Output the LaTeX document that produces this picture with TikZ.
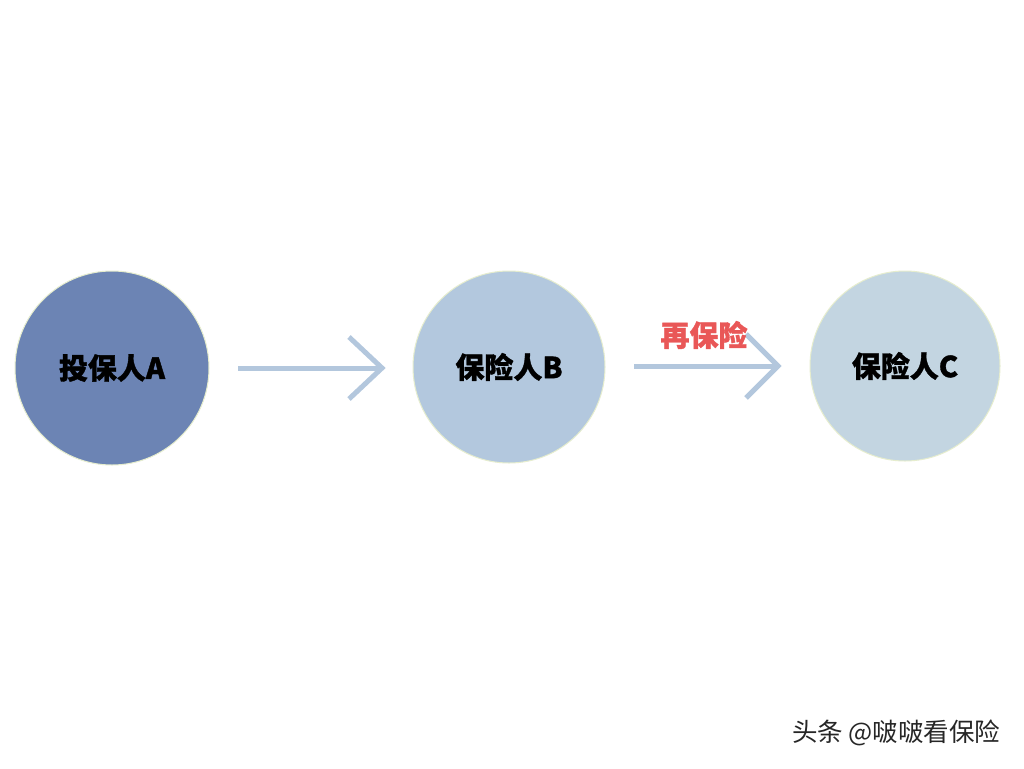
\documentclass[tikz,border=0pt]{standalone}
\usepackage{fontspec}
\newfontfamily\cjk{Noto Sans CJK SC}[BoldFeatures={FakeBold=1.2}]
\newfontfamily\cjkthin{Noto Sans CJK SC}
\begin{document}
\begin{tikzpicture}[x=1pt,y=-1pt,
  party/.style={circle,draw=rimc,line width=1pt,minimum size=#1,inner sep=0pt,
    font=\cjk\bfseries\fontsize{29}{32}\selectfont,text=black},
  flow/.style={draw=arrowc,line width=5pt},
  lbl/.style={font=\cjk\bfseries\fontsize{29}{32}\selectfont,text=redc},
  wmark/.style={font=\cjkthin\fontsize{25.5}{28}\selectfont,text=black!85}]
\definecolor{ac}{HTML}{6C84B4}
\definecolor{bc}{HTML}{B3C8DE}
\definecolor{cc}{HTML}{C3D5E1}
\definecolor{rimc}{HTML}{E6EDCE}
\definecolor{arrowc}{HTML}{B3C7DD}
\definecolor{redc}{HTML}{E95757}
\useasboundingbox (0,0) rectangle (1024,768);
\fill[white] (0,0) rectangle (1024,768);
\node[party=194pt,fill=ac] (a) at (112,368) {投保人A};
\node[party=192pt,fill=bc] (b) at (509,367) {保险人B};
\node[party=190pt,fill=cc] (c) at (905,366) {保险人C};
\coordinate (a1s) at (238,368);
\coordinate (a1e) at (382,368);
\coordinate (a2s) at (634,366);
\coordinate (a2e) at (778,366);
\draw[flow] (a1s) -- (a1e);
\draw[flow,line join=miter] (349,337) -- (a1e) -- (349,399);
\draw[flow] (a2s) -- (a2e);
\draw[flow,line join=miter] (746,334) -- (a2e) -- (746,398);
\node[lbl] (re) at (704,335) {再保险};
\node[wmark,anchor=east] (wm) at (1004,733) {头条 @啵啵看保险};
\end{tikzpicture}
\end{document}
